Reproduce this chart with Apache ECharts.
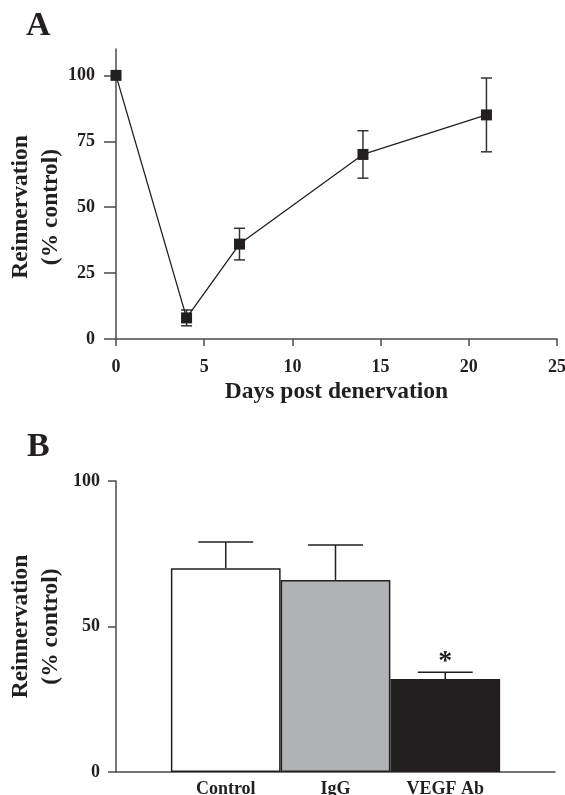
<!DOCTYPE html>
<html>
<head>
<meta charset="utf-8">
<script src="https://cdn.jsdelivr.net/npm/echarts@6/dist/echarts.min.js"></script>
<style>
  html, body { margin: 0; padding: 0; background: #fff; }
  #main { width: 565px; height: 795px; }
</style>
</head>
<body>
<div id="main"></div>
<script>
// panel A - time course
var days = [0, 4, 7, 14, 21];
var reinnervation = [100, 8, 36, 70, 85];
var errLow = [100, 5, 30, 61, 71];
var errHigh = [100, 11, 42, 79, 99];
var dayTicks = [0, 5, 10, 15, 20, 25];
var pctTicksA = [0, 25, 50, 75, 100];

// panel B - treatment groups
var groups = ['Control', 'IgG', 'VEGF Ab'];
var groupValues = [70, 66, 32];
var groupErrHigh = [79, 78, 34.3];
var groupMarks = ['', '', '*'];
var groupColors = ['#ffffff', '#b1b2b6', '#231f20'];
var pctTicksB = [0, 50, 100];

var ink = '#231f20';
var axisGrey = '#4a4a4a';
var serif = 'Liberation Serif';

var myChart = echarts.init(document.getElementById('main'));

// padded so the bars sit one band in from each end of the axis
var groupAxis = [''].concat(groups, ['']);
var barData = groupValues.map(function (v, i) {
  return { value: v, itemStyle: { color: groupColors[i] } };
});
barData = ['-'].concat(barData, ['-']);
var barErrData = groupValues.map(function (v, i) {
  return [i + 1, v, groupErrHigh[i], groupMarks[i]];
});

var labelStyle = { fontFamily: serif, fontWeight: 'bold', fontSize: 18, color: ink };
var nameStyle = { fontFamily: serif, fontWeight: 'bold', fontSize: 23.5, color: ink, lineHeight: 30 };
var axLine = { show: true, lineStyle: { color: axisGrey, width: 1.5 } };

var option = {
  animation: false,
  backgroundColor: '#fff',
  title: [
    { text: 'A', left: 21, top: 4, textStyle: { fontFamily: serif, fontWeight: 'bold', fontSize: 34, color: ink } },
    { text: 'B', left: 22, top: 425, textStyle: { fontFamily: serif, fontWeight: 'bold', fontSize: 34, color: ink } }
  ],
  grid: [
    { left: 116, right: 8, top: 49, bottom: 456, outerBoundsMode: 'none', containLabel: false },
    { left: 116, right: 10, top: 481, bottom: 23, outerBoundsMode: 'none', containLabel: false }
  ],
  xAxis: [
    {
      gridIndex: 0,
      type: 'value',
      min: 0, max: 25, interval: 5,
      splitLine: { show: false },
      axisLine: axLine,
      axisTick: { show: true, length: 7, lineStyle: { color: axisGrey, width: 1.5 }, customValues: dayTicks },
      axisLabel: Object.assign({ margin: 19, customValues: dayTicks }, labelStyle),
      name: 'Days post denervation',
      nameLocation: 'middle',
      nameGap: 38,
      nameMoveOverlap: false,
      nameTextStyle: nameStyle
    },
    {
      gridIndex: 1,
      type: 'category',
      data: groupAxis,
      boundaryGap: false,
      axisLine: axLine,
      axisTick: { show: false },
      axisLabel: Object.assign({ margin: 8, interval: 0 }, labelStyle)
    }
  ],
  yAxis: [
    {
      gridIndex: 0,
      type: 'value',
      min: 0, max: 110,
      splitLine: { show: false },
      axisLine: axLine,
      axisTick: { show: true, length: 12, lineStyle: { color: axisGrey, width: 1.5 }, customValues: pctTicksA },
      axisLabel: Object.assign({ margin: 21, customValues: pctTicksA }, labelStyle),
      name: 'Reinnervation\n(% control)',
      nameLocation: 'middle',
      nameGap: 50,
      nameMoveOverlap: false,
      nameTextStyle: Object.assign({ padding: [0, 26, 0, 0] }, nameStyle)
    },
    {
      gridIndex: 1,
      type: 'value',
      min: 0, max: 100, interval: 50,
      splitLine: { show: false },
      axisLine: axLine,
      axisTick: { show: true, length: 8, lineStyle: { color: axisGrey, width: 1.5 }, customValues: pctTicksB },
      axisLabel: Object.assign({ margin: 16, customValues: pctTicksB }, labelStyle),
      name: 'Reinnervation\n(% control)',
      nameLocation: 'middle',
      nameGap: 50,
      nameMoveOverlap: false,
      nameTextStyle: nameStyle
    }
  ],
  series: [
    {
      // error bars for panel A
      type: 'custom',
      xAxisIndex: 0, yAxisIndex: 0,
      z: 1,
      data: days.map(function (d, i) { return [d, errLow[i], errHigh[i]]; }),
      renderItem: function (params, api) {
        var lo = api.coord([api.value(0), api.value(1)]);
        var hi = api.coord([api.value(0), api.value(2)]);
        if (Math.abs(hi[1] - lo[1]) < 1) return;
        var half = 5.5;
        var st = { stroke: '#333', lineWidth: 1.5 };
        return {
          type: 'group',
          children: [
            { type: 'line', shape: { x1: lo[0], y1: lo[1], x2: hi[0], y2: hi[1] }, style: st },
            { type: 'line', shape: { x1: lo[0] - half, y1: lo[1], x2: lo[0] + half, y2: lo[1] }, style: st },
            { type: 'line', shape: { x1: hi[0] - half, y1: hi[1], x2: hi[0] + half, y2: hi[1] }, style: st }
          ]
        };
      }
    },
    {
      type: 'line',
      xAxisIndex: 0, yAxisIndex: 0,
      z: 3,
      data: days.map(function (d, i) { return [d, reinnervation[i]]; }),
      symbol: 'rect',
      symbolSize: 11,
      itemStyle: { color: ink },
      lineStyle: { color: ink, width: 1.3 }
    },
    {
      type: 'bar',
      xAxisIndex: 1, yAxisIndex: 1,
      barWidth: '100%',
      data: barData,
      itemStyle: { borderColor: ink, borderWidth: 1.5 },
      z: 3
    },
    {
      // upper error bars + significance mark for panel B
      type: 'custom',
      xAxisIndex: 1, yAxisIndex: 1,
      z: 2,
      data: barErrData,
      renderItem: function (params, api) {
        var base = api.coord([api.value(0), api.value(1)]);
        var top = api.coord([api.value(0), api.value(2)]);
        var half = api.size([1, 0])[0] / 4;
        var st = { stroke: ink, lineWidth: 1.5 };
        var kids = [
          { type: 'line', shape: { x1: base[0], y1: base[1], x2: top[0], y2: top[1] }, style: st },
          { type: 'line', shape: { x1: top[0] - half, y1: top[1], x2: top[0] + half, y2: top[1] }, style: st }
        ];
        var mark = groupMarks[params.dataIndex];
        if (mark) {
          kids.push({
            type: 'text',
            style: {
              text: mark, x: top[0], y: top[1] + 4,
              align: 'center', verticalAlign: 'bottom',
              fontFamily: serif, fontWeight: 'bold', fontSize: 28, fill: ink
            }
          });
        }
        return { type: 'group', children: kids };
      }
    }
  ]
};

myChart.setOption(option);
</script>
</body>
</html>
